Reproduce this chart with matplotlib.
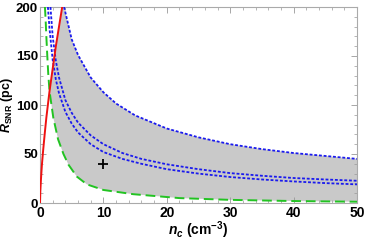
import numpy as np
import matplotlib
matplotlib.use('Agg')
import matplotlib.pyplot as plt
from matplotlib.ticker import MultipleLocator

plt.rcParams['font.family'] = ['Liberation Sans', 'DejaVu Sans']
plt.rcParams['font.weight'] = 'bold'
plt.rcParams['mathtext.fontset'] = 'custom'
plt.rcParams['mathtext.rm'] = 'Liberation Sans:bold'
plt.rcParams['mathtext.it'] = 'Liberation Sans:italic:bold'
plt.rcParams['mathtext.bf'] = 'Liberation Sans:bold'

# red solid curve
n_red = [0, 0.05, 0.15, 0.3, 0.5, 0.75, 1.0, 1.5, 2.0, 2.5, 3.0, 3.5]
R_red = [0, 12, 24, 39, 54, 71, 87, 114, 137, 160, 180, 200]

# green long dashes (lower bound)
n_green = [0.78, 0.9, 1.0, 1.15, 1.3, 1.5, 2.1, 2.85, 3.7, 4.5, 5.8, 7.4, 10, 14.7, 22, 30, 40, 50]
R_green = [200, 185, 170, 150, 132, 114, 87, 65, 50, 39, 27, 19, 13.3, 9, 5, 3.2, 2, 1.3]

# blue dotted curves
n_blue_hi = [3.8, 5, 6, 8, 10, 12, 15, 20, 25, 30, 35, 40, 45, 50]
R_blue_hi = [200, 167, 151, 128, 113, 101.5, 89.4, 76, 67, 60, 55, 51, 48, 45]

n_blue_a = [1.65, 2, 2.5, 3, 4, 5, 6, 8, 10, 13, 16, 20, 25, 30, 35, 40, 45, 50]
R_blue_a = [200, 170, 145, 128, 105, 92, 82, 69, 60, 51, 45, 39.5, 34.5, 30.5, 27.8, 25.5, 24, 22.7]

n_blue_b = [1.25, 1.5, 2, 2.5, 3, 4, 5, 6, 8, 10, 13, 16, 20, 25, 30, 35, 40, 45, 50]
R_blue_b = [200, 178, 146, 126, 112, 93, 81, 72, 60, 52, 45, 40, 34.5, 30, 26.5, 24, 22, 20.3, 19]

# marker
n_pt = [10]
R_pt = [40]

fig = plt.figure(figsize=(3.65, 2.41), dpi=100)
ax = fig.add_axes([40/365, 1 - 203/241, 317/365, 196/241])

# shaded allowed region: right of red, below upper blue, above green
i_r = n_red.index(1.5)
i_g = n_green.index(1.5)
poly_n = np.concatenate([n_red[i_r:], n_blue_hi, n_green[i_g:][::-1]])
poly_R = np.concatenate([R_red[i_r:], R_blue_hi, R_green[i_g:][::-1]])
ax.fill(poly_n, poly_R, color='#c9c9c9', lw=0, zorder=1)

ax.plot(n_green, R_green, color='#22c322', lw=1.4, dashes=(5, 2.5), zorder=3)
ax.plot(n_red, R_red, color='#ee1111', lw=1.4, zorder=4)
for nn, rr in [(n_blue_hi, R_blue_hi), (n_blue_a, R_blue_a), (n_blue_b, R_blue_b)]:
    ax.plot(nn, rr, color='#1a1aee', lw=1.3, dashes=(1.6, 1.0), zorder=3)
ax.plot(n_pt, R_pt, marker='+', color='black', ms=7, mew=1.3, ls='none', zorder=5)

ax.set_xlim(0, 50)
ax.set_ylim(0, 200)
ax.xaxis.set_major_locator(MultipleLocator(10))
ax.xaxis.set_minor_locator(MultipleLocator(2))
ax.yaxis.set_major_locator(MultipleLocator(50))
ax.yaxis.set_minor_locator(MultipleLocator(10))
ax.tick_params(which='both', direction='in', top=True, right=True, color='#999999',
               labelsize=10, pad=2)
ax.tick_params(axis='y', labelsize=9.5, pad=1.5)
ax.tick_params(which='major', length=4, width=0.6)
ax.tick_params(which='minor', length=2, width=0.5)
for lab in ax.get_xticklabels() + ax.get_yticklabels():
    lab.set_fontweight('bold')
for s in ax.spines.values():
    s.set_color('#aaaaaa')
    s.set_linewidth(0.8)

ax.set_xlabel(r'$n_c$ (cm$^{-3}$)', fontsize=10, fontweight='bold')
ax.set_ylabel(r'$R_{\mathrm{SNR}}$ (pc)', fontsize=9, fontweight='bold')
ax.xaxis.set_label_coords(0.5, -0.085)
ax.yaxis.set_label_coords(-0.079, 0.5)

fig.savefig('out.png', dpi=100)
